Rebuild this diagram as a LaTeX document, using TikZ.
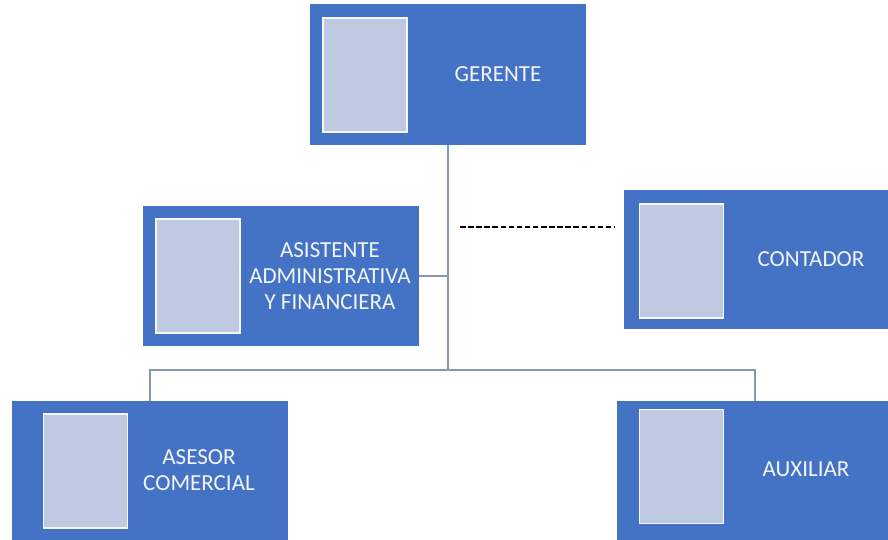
\documentclass[tikz,border=0pt]{standalone}
\usepackage{fontspec}
\setmainfont{Carlito}
\definecolor{boxblue}{HTML}{4472C4}
\definecolor{photo}{HTML}{BFC9E1}
\definecolor{linegray}{HTML}{8497B0}
\definecolor{txt}{HTML}{F2F5FA}
\begin{document}
\begin{tikzpicture}[x=1pt,y=-1pt,
  role/.style={rectangle, fill=boxblue, draw=none, minimum width=276pt, minimum height=140pt, inner sep=0pt},
  pic/.style={rectangle, fill=photo, draw=white!85!photo, line width=1.2pt, minimum width=84pt, minimum height=114pt, inner sep=0pt},
  lbl/.style={text=txt, font=\fontsize{23}{26}\selectfont, align=center, inner sep=0pt},
  conn/.style={draw=linegray, line width=1.4pt}]
\useasboundingbox (0,0) rectangle (888,540);
\clip (0,0) rectangle (888,540);
\fill[white] (0,0) rectangle (888,540);
% boxes
\node[role, minimum height=141pt] (ger) at (448,74.5) {};
\node[role] (asis) at (280.5,276) {};
\node[role, minimum height=139pt] (cont) at (762,259.5) {};
\node[role] (ases) at (150,471) {};
\node[role] (aux) at (755,471) {};
% photo placeholders
\node[pic] (p1) at (365,75) {};
\node[pic] (p2) at (198,276) {};
\node[pic] (p3) at (681.5,261) {};
\node[pic] (p4) at (85.5,471) {};
\node[pic] (p5) at (681.5,466.5) {};
% labels
\node[lbl] (t1) at (498,74) {GERENTE};
\node[lbl] (t2) at (330,276) {ASISTENTE\\ADMINISTRATIVA\\Y FINANCIERA};
\node[lbl] (t3) at (811,259) {CONTADOR};
\node[lbl] (t4) at (199,470) {ASESOR\\COMERCIAL};
\node[lbl] (t5) at (806,469) {AUXILIAR};
% connectors
\coordinate (j) at (448,370);
\draw[conn] (ger.south) -- (j);
\draw[conn] (asis.east) -- (asis.east -| ger.south);
\draw[conn] (ases.north) |- (j) -| (aux.north);
\coordinate (d1) at (460,227);
\coordinate (d2) at (615,227);
\draw[black, line width=1.3pt, dash pattern=on 5.5pt off 2.6pt] (d1) -- (d2);
\end{tikzpicture}
\end{document}
